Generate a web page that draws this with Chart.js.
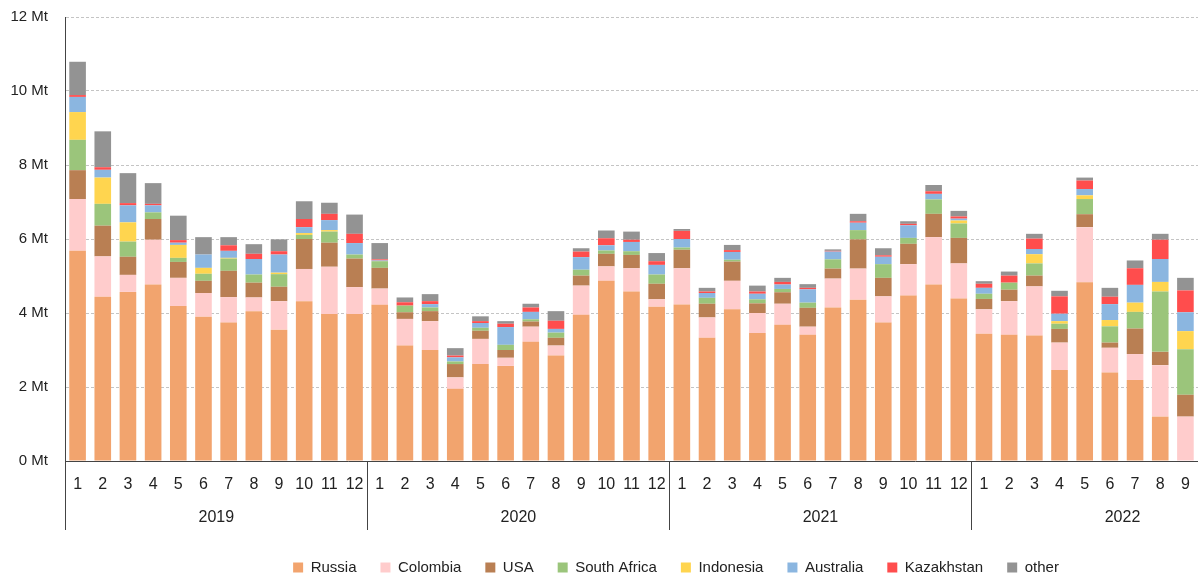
<!DOCTYPE html>
<html>
<head>
<meta charset="utf-8">
<script src="https://cdn.jsdelivr.net/npm/chart.js@4/dist/chart.umd.min.js"></script>
<style>
  html, body { margin: 0; padding: 0; background: #fff; }
  #wrap { width: 1198px; height: 577px; position: relative; }
</style>
</head>
<body>
<div id="wrap"><canvas id="chart"></canvas></div>
<script>
// monthly imports, Mt
const months = [
  '1','2','3','4','5','6','7','8','9','10','11','12',
  '1','2','3','4','5','6','7','8','9','10','11','12',
  '1','2','3','4','5','6','7','8','9','10','11','12',
  '1','2','3','4','5','6','7','8','9'
]
const years = [['2019', 12], ['2020', 12], ['2021', 12], ['2022', 9]]

const russia = [
  5.68, 4.44, 4.57, 4.77, 4.19, 3.90, 3.74, 4.05, 3.55, 4.32, 3.97, 3.97,
  4.22, 3.12, 3.00, 1.95, 2.62, 2.57, 3.22, 2.85, 3.95, 4.87, 4.58, 4.17,
  4.23, 3.33, 4.10, 3.46, 3.68, 3.41, 4.15, 4.36, 3.74, 4.47, 4.77, 4.39,
  3.44, 3.41, 3.39, 2.46, 4.83, 2.39, 2.19, 1.20, 0
]
const colombia = [
  1.40, 1.09, 0.46, 1.21, 0.76, 0.64, 0.69, 0.37, 0.77, 0.87, 1.28, 0.73,
  0.44, 0.72, 0.78, 0.31, 0.68, 0.22, 0.41, 0.27, 0.79, 0.39, 0.63, 0.20,
  0.98, 0.55, 0.77, 0.54, 0.57, 0.22, 0.78, 0.84, 0.71, 0.85, 1.28, 0.95,
  0.66, 0.91, 1.33, 0.74, 1.49, 0.67, 0.70, 1.39, 1.20
]
const usa = [
  0.78, 0.83, 0.49, 0.56, 0.43, 0.33, 0.71, 0.40, 0.39, 0.81, 0.65, 0.77,
  0.56, 0.18, 0.27, 0.36, 0.22, 0.21, 0.14, 0.21, 0.27, 0.34, 0.36, 0.42,
  0.50, 0.37, 0.52, 0.26, 0.31, 0.51, 0.27, 0.79, 0.50, 0.55, 0.63, 0.69,
  0.28, 0.31, 0.29, 0.37, 0.35, 0.14, 0.69, 0.36, 0.59
]
const southAfrica = [
  0.82, 0.59, 0.41, 0.18, 0.11, 0.19, 0.33, 0.22, 0.34, 0.11, 0.30, 0.11,
  0.18, 0.18, 0.10, 0.07, 0.08, 0.14, 0.06, 0.14, 0.16, 0.09, 0.10, 0.25,
  0.06, 0.16, 0.05, 0.11, 0.09, 0.14, 0.25, 0.25, 0.37, 0.16, 0.39, 0.39,
  0.14, 0.19, 0.33, 0.14, 0.41, 0.44, 0.45, 1.63, 1.23
]
const indonesia = [
  0.75, 0.71, 0.52, 0, 0.35, 0.16, 0.02, 0, 0.04, 0.05, 0.04, 0,
  0, 0, 0, 0, 0, 0, 0, 0, 0, 0, 0, 0,
  0, 0, 0, 0, 0, 0, 0, 0, 0, 0, 0, 0.08,
  0, 0, 0.25, 0.07, 0.10, 0.17, 0.25, 0.26, 0.49
]
const australia = [
  0.41, 0.21, 0.46, 0.19, 0.06, 0.36, 0.19, 0.42, 0.49, 0.16, 0.27, 0.31,
  0.02, 0, 0.09, 0.11, 0.13, 0.48, 0.20, 0.10, 0.34, 0.14, 0.25, 0.26,
  0.23, 0.13, 0.21, 0.15, 0.12, 0.36, 0.21, 0.20, 0.20, 0.34, 0.15, 0.05,
  0.16, 0, 0.14, 0.20, 0.17, 0.43, 0.48, 0.62, 0.51
]
const kazakhstan = [
  0.05, 0.07, 0.06, 0.04, 0.07, 0, 0.15, 0.14, 0.09, 0.22, 0.17, 0.25,
  0.03, 0.09, 0.08, 0.05, 0.05, 0.09, 0.12, 0.22, 0.15, 0.19, 0.06, 0.10,
  0.22, 0.04, 0.05, 0.06, 0.07, 0.04, 0.02, 0.04, 0.04, 0.04, 0.07, 0.06,
  0.11, 0.19, 0.28, 0.47, 0.23, 0.20, 0.45, 0.52, 0.59
]
const other = [
  0.90, 0.97, 0.81, 0.56, 0.66, 0.47, 0.22, 0.26, 0.32, 0.48, 0.30, 0.52,
  0.44, 0.13, 0.19, 0.20, 0.13, 0.07, 0.10, 0.26, 0.09, 0.21, 0.22, 0.22,
  0.05, 0.10, 0.14, 0.16, 0.11, 0.10, 0.04, 0.20, 0.19, 0.07, 0.17, 0.15,
  0.07, 0.11, 0.13, 0.15, 0.08, 0.24, 0.21, 0.16, 0.34
]

const series = [
  ['Russia', russia, '#f2a46e'],
  ['Colombia', colombia, '#ffcccc'],
  ['USA', usa, '#b97f53'],
  ['South Africa', southAfrica, '#9bc57b'],
  ['Indonesia', indonesia, '#ffd54f'],
  ['Australia', australia, '#8bb6e0'],
  ['Kazakhstan', kazakhstan, '#ff4d4d'],
  ['other', other, '#939393'],
]

const FONT = "'Liberation Sans', Arial, sans-serif"

// second row of the x axis: year names and separators
const yearAxis = {
  id: 'yearAxis',
  afterLayout(chart) {
    // legend in the original sits a bit right of centre
    chart.legend.left += 77
    chart.legend.right += 77
  },
  afterDraw(chart) {
    const x = chart.scales.x
    const ctx = chart.ctx
    const top = chart.chartArea.bottom
    const w = x.getPixelForValue(1) - x.getPixelForValue(0)
    ctx.save()
    ctx.strokeStyle = '#444'
    ctx.lineWidth = 1
    ctx.fillStyle = '#222'
    ctx.font = "16px " + FONT
    ctx.textAlign = 'center'
    ctx.textBaseline = 'middle'
    let start = 0
    years.forEach(([year, n]) => {
      const left = Math.round(x.getPixelForValue(start) - w / 2) + 0.5
      const right = x.getPixelForValue(start + 11) + w / 2
      ctx.beginPath()
      ctx.moveTo(left, top)
      ctx.lineTo(left, top + 69)
      ctx.stroke()
      ctx.fillText(year, (left + right) / 2, top + 57)
      start += n
    })
    ctx.restore()
  }
}

new Chart(document.getElementById('chart'), {
  type: 'bar',
  data: {
    labels: months,
    datasets: series.map(([label, data, color]) => ({
      label, data,
      backgroundColor: color,
      borderWidth: 0,
      barPercentage: 0.66,
      categoryPercentage: 1,
    }))
  },
  options: {
    responsive: true,
    maintainAspectRatio: false,
    animation: false,
    layout: { padding: { top: 17, right: 0, left: 0, bottom: -8 } },
    plugins: {
      tooltip: { enabled: false },
      legend: {
        position: 'bottom',
        labels: {
          font: { family: FONT, size: 15 },
          color: '#222',
          boxWidth: 10,
          boxHeight: 10,
          padding: 24,
        }
      }
    },
    scales: {
      x: {
        stacked: true,
        grid: { display: false, drawTicks: false },
        border: { display: true, color: '#444', width: 1 },
        ticks: {
          font: { family: FONT, size: 16 },
          color: '#222',
          padding: 14,
          maxRotation: 0,
          autoSkip: false,
        },
        afterFit(scale) {
          scale.height = 75
          scale.paddingLeft = 0
          scale.paddingRight = 0
        }
      },
      y: {
        stacked: true,
        min: 0,
        max: 12,
        grid: {
          color: '#c4c4c4',
          drawTicks: false,
        },
        border: { display: true, color: '#444', width: 1, dash: [3, 2] },
        ticks: {
          stepSize: 2,
          font: { family: FONT, size: 15 },
          color: '#222',
          padding: 17,
          callback: v => v + ' Mt'
        },
        afterFit(scale) {
          scale.width = 65
          scale.paddingTop = 0
          scale.paddingBottom = 0
        }
      }
    }
  },
  plugins: [yearAxis]
})
</script>
</body>
</html>
